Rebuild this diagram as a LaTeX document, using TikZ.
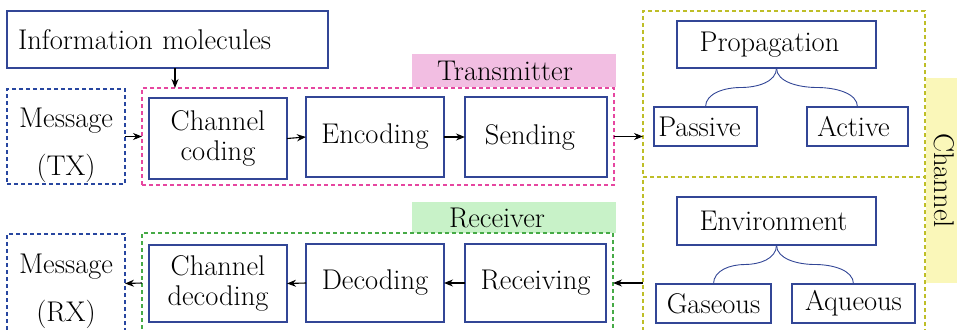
\documentclass[tikz,border=0pt]{standalone}
\usetikzlibrary{arrows.meta,calc}
\definecolor{boxblue}{RGB}{50,70,150}
\definecolor{dashblue}{RGB}{40,70,160}
\definecolor{dashpink}{RGB}{230,70,160}
\definecolor{dashgreen}{RGB}{70,170,70}
\definecolor{dashyellow}{RGB}{190,190,40}
\definecolor{fillpink}{RGB}{242,190,226}
\definecolor{fillgreen}{RGB}{200,242,200}
\definecolor{fillyellow}{RGB}{250,247,185}
\newcommand\bracepath[2]{%
  \coordinate (bm) at ($(#1.south)!0.5!(#2.north)$);
  \draw[brace] (#1.south) .. controls +(0,14) and ($(bm)!0.45!(#1.south |- bm)$) .. (bm)
     .. controls ($(bm)!0.45!(#2.north |- bm)$) and +(0,-14) .. (#2.north);}
\begin{document}
\begin{tikzpicture}[x=1pt,y=-1pt,
  font=\fontsize{28.5}{30}\selectfont,
  every node/.style={inner sep=0pt, outer sep=0pt},
  bbox/.style={draw=boxblue, line width=1.2pt, align=center},
  dbox/.style={dashed, dash pattern=on 4pt off 3pt, line width=1.2pt},
  lab/.style={fill=#1, draw=none},
  arr/.style={-{Stealth[length=9pt,width=7pt]}, line width=1.1pt, black},
  brace/.style={draw=boxblue, line width=0.9pt}
]
\useasboundingbox (0,0) rectangle (957,329);
\clip (0,0) rectangle (957,329);

% labels (fills)
\node[lab=fillpink, minimum width=204, minimum height=33] (txlab) at (514,70.5) {Transmitter\hspace*{18pt}};
\node[lab=fillgreen, minimum width=204, minimum height=31] (rxlab) at (514,217.5) {Receiver\hspace*{34pt}};
\node[lab=fillyellow, minimum width=205, minimum height=36, rotate=-90] (chlab) at (944,180.5) {Channel};

% top row
\node[bbox, minimum width=321, minimum height=57, text width=299, inner xsep=11pt, align=left] (info) at (167.5,39.5) {Information molecules};
\node[dbox, draw=dashblue, minimum width=118, minimum height=95] (msgtx) at (66,136.5) {};
\node[align=center] (msgtxt) at (66,145) {Message\\[18pt](TX)};
\node[dbox, draw=dashpink, minimum width=472, minimum height=97] (tx) at (378,136.5) {};
\node[bbox, minimum width=138, minimum height=81] (cc) at (218,138.5) {Channel\\coding};
\node[bbox, minimum width=138, minimum height=80] (enc) at (375,137) {Encoding};
\node[bbox, minimum width=142, minimum height=80] (send) at (536,137) {Sending\hspace*{12pt}};

% bottom row
\node[dbox, draw=dashblue, minimum width=118, minimum height=99] (msgrx) at (66,283.5) {};
\node[align=center] (msgrxt) at (66,291) {Message\\[18pt](RX)};
\node[dbox, draw=dashgreen, minimum width=471, minimum height=100] (rx) at (377.5,283) {};
\node[bbox, minimum width=138, minimum height=77] (cd) at (218,283.5) {Channel\\decoding};
\node[bbox, minimum width=138, minimum height=78] (dec) at (375,283) {Decoding};
\node[bbox, minimum width=141, minimum height=78] (recv) at (535.5,283) {Receiving};

% channel
\node[dbox, draw=dashyellow, minimum width=282, minimum height=166] (chtop) at (784,94) {};
\node[dbox, draw=dashyellow, minimum width=282, minimum height=168] (chbot) at (784,261) {};
\node[bbox, minimum width=199, minimum height=47] (prop) at (776.5,44.5) {Propagation\hspace*{14pt}};
\node[bbox, minimum width=103, minimum height=39] (passive) at (705.5,126.5) {Passive\hspace*{12pt}};
\node[bbox, minimum width=101, minimum height=39] (active) at (857.5,126.5) {Active\hspace*{8pt}};
\node[bbox, minimum width=199, minimum height=48] (env) at (776.5,221) {Environment\hspace*{6pt}};
\node[bbox, minimum width=115, minimum height=39] (gas) at (713.5,303.5) {Gaseous};
\node[bbox, minimum width=123, minimum height=39] (aq) at (853.5,303.5) {Aqueous};

% braces
\bracepath{prop}{passive}
\bracepath{prop}{active}
\bracepath{env}{gas}
\bracepath{env}{aq}

% arrows
\coordinate (infoa) at (175,68);
\draw[arr] (infoa) -- (infoa |- tx.north);
\draw[arr] (msgtx.east) -- (tx.west);
\draw[arr] (cc.east) -- (enc.west);
\draw[arr] (enc.east) -- (send.west);
\draw[arr] (tx.east) -- (tx.east -| chtop.west);
\draw[arr] (rx.east -| chbot.west) -- (rx.east);
\draw[arr] (recv.west) -- (dec.east);
\draw[arr] (dec.west) -- (cd.east);
\draw[arr] (rx.west) -- (msgrx.east);
\end{tikzpicture}
\end{document}
